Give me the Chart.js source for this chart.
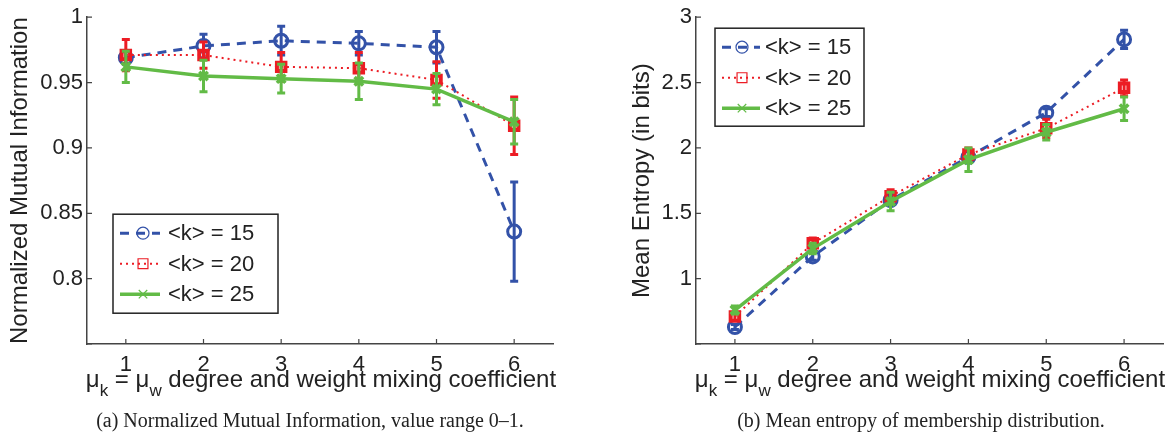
<!DOCTYPE html>
<html>
<head>
<meta charset="utf-8">
<script src="https://cdn.jsdelivr.net/npm/chart.js@4.4.1/dist/chart.umd.min.js"></script>
<style>
	html, body { margin: 0; padding: 0; background: #fff; }
	#wrap { position: relative; width: 1173px; height: 434px; overflow: hidden; font-family: 'Liberation Sans', Arial, sans-serif; color: #222; }
	canvas { position: absolute; top: 0; }
	.xtitle { position: absolute; top: 367px; width: 600px; text-align: center; font-size: 24px; line-height: 24px; white-space: nowrap; }
	.xtitle .s { position: relative; top: 9px; font-size: 17px; }
	.caption { position: absolute; top: 410px; width: 600px; text-align: center; font-family: 'Liberation Serif', 'Times New Roman', serif; font-size: 20px; line-height: 20px; white-space: nowrap; }
</style>
</head>
<body>
<div id="wrap">
	<canvas id="nmi-chart" width="575" height="434" style="left:0"></canvas>
	<canvas id="entropy-chart" width="551" height="434" style="left:622px"></canvas>
	<div class="xtitle" style="left:21px">μ<span class="s">k</span> = μ<span class="s">w</span> degree and weight mixing coefficient</div>
	<div class="xtitle" style="left:630px">μ<span class="s">k</span> = μ<span class="s">w</span> degree and weight mixing coefficient</div>
	<div class="caption" style="left:10px">(a) Normalized Mutual Information, value range 0–1.</div>
	<div class="caption" style="left:621px">(b) Mean entropy of membership distribution.</div>
</div>
<script>
const d = document,
	$nmi = d.getElementById('nmi-chart'),
	$entropy = d.getElementById('entropy-chart')

// mixing coefficient on the x axis
const mixing = ['1', '2', '3', '4', '5', '6']
const seriesLabels = ['<k> = 15', '<k> = 20', '<k> = 25']

// (a) normalized mutual information, mean and half error bar
const nmiK15 = [0.969, 0.978, 0.982, 0.980, 0.977, 0.836]
const nmiK15Err = [0.005, 0.009, 0.011, 0.009, 0.012, 0.038]
const nmiK20 = [0.971, 0.971, 0.962, 0.961, 0.952, 0.917]
const nmiK20Err = [0.012, 0.010, 0.011, 0.012, 0.014, 0.022]
const nmiK25 = [0.962, 0.955, 0.953, 0.951, 0.945, 0.920]
const nmiK25Err = [0.012, 0.012, 0.011, 0.014, 0.012, 0.017]
const nmiTicks = [0.75, 1, 0.05]

// (b) mean entropy in bits
const entK15 = [0.63, 1.17, 1.60, 1.93, 2.27, 2.83]
const entK15Err = [0.02, 0.03, 0.03, 0.04, 0.03, 0.07]
const entK20 = [0.71, 1.27, 1.63, 1.95, 2.15, 2.46]
const entK20Err = [0.03, 0.04, 0.05, 0.05, 0.07, 0.06]
const entK25 = [0.76, 1.23, 1.59, 1.91, 2.12, 2.30]
const entK25Err = [0.03, 0.04, 0.07, 0.09, 0.06, 0.09]
const entTicks = [0.5, 3, 0.5]

const AXIS = '#444',
	TEXT = '#222',
	STYLES = [
		{ color: '#3352a8', width: 3, dash: [9, 7], point: 'circle', radius: 6.5, pw: 3, legendRadius: 6 },
		{ color: '#ec1c24', width: 2, dash: [2, 4], point: 'rect', radius: 6, pw: 4, legendRadius: 7 },
		{ color: '#62bb46', width: 3.5, dash: [], point: 'crossRot', radius: 6, pw: 3.5, legendRadius: 6 },
	]

const errorBars = {
	id: 'errorBars',
	beforeDatasetDraw(chart, args) {
		const ds = chart.data.datasets[args.index]
		if (!ds.errors) return
		const ctx = chart.ctx, y = chart.scales.y
		ctx.save()
		ctx.strokeStyle = ds.borderColor
		ctx.lineWidth = 3
		ctx.setLineDash([])
		args.meta.data.forEach((pt, i) => {
			const top = y.getPixelForValue(ds.data[i] + ds.errors[i]),
				bot = y.getPixelForValue(ds.data[i] - ds.errors[i])
			ctx.beginPath()
			ctx.moveTo(pt.x, top); ctx.lineTo(pt.x, bot)
			ctx.moveTo(pt.x - 4, top); ctx.lineTo(pt.x + 4, top)
			ctx.moveTo(pt.x - 4, bot); ctx.lineTo(pt.x + 4, bot)
			ctx.stroke()
		})
		ctx.restore()
	},
}

const inwardTicks = {
	id: 'inwardTicks',
	beforeDatasetsDraw(chart) {
		const { ctx, chartArea: a, scales: { x, y } } = chart
		ctx.save()
		ctx.strokeStyle = AXIS
		ctx.lineWidth = 1.2
		ctx.beginPath()
		x.ticks.forEach((t, i) => {
			const px = x.getPixelForTick(i)
			ctx.moveTo(px, a.bottom); ctx.lineTo(px, a.bottom - 5)
		})
		y.ticks.forEach((t, i) => {
			const py = y.getPixelForTick(i)
			ctx.moveTo(a.left, py); ctx.lineTo(a.left + 5, py)
		})
		ctx.stroke()
		ctx.restore()
	},
}

const boxLegend = {
	id: 'boxLegend',
	afterDraw(chart, args, o) {
		const ctx = chart.ctx, a = chart.chartArea,
			bx = a.left + o.dx, by = a.top + o.dy
		ctx.save()
		ctx.fillStyle = '#fff'
		ctx.fillRect(bx, by, o.w, o.h)
		ctx.strokeStyle = TEXT
		ctx.lineWidth = 1.5
		ctx.strokeRect(bx, by, o.w, o.h)
		chart.data.datasets.forEach((ds, i) => {
			const st = STYLES[i], cy = by + 19 + i * 30.5
			ctx.strokeStyle = st.color
			ctx.lineWidth = st.width
			ctx.setLineDash(st.dash)
			ctx.beginPath()
			ctx.moveTo(bx + 7, cy); ctx.lineTo(bx + o.lineEnd, cy)
			ctx.stroke()
			ctx.setLineDash([])
			ctx.fillStyle = 'rgba(0,0,0,0)'
			ctx.lineWidth = 1.2
			Chart.helpers.drawPoint(ctx, { pointStyle: st.point, radius: st.legendRadius, borderWidth: 1.2, rotation: 0 }, bx + o.marker, cy)
			ctx.fillStyle = TEXT
			ctx.font = '22px "Liberation Sans", Arial, sans-serif'
			ctx.textBaseline = 'middle'
			ctx.fillText(ds.label, bx + o.text, cy + 1)
		})
		ctx.restore()
	},
}

function makeDatasets(values, errors) {
	return values.map((v, i) => ({
		label: seriesLabels[i],
		data: v,
		errors: errors[i],
		order: 3 - i,
		borderColor: STYLES[i].color,
		borderWidth: STYLES[i].width,
		borderDash: STYLES[i].dash,
		pointStyle: STYLES[i].point,
		pointRadius: STYLES[i].radius,
		pointBorderWidth: STYLES[i].pw,
		pointBorderColor: STYLES[i].color,
		pointBackgroundColor: 'rgba(0,0,0,0)',
		fill: false,
		tension: 0,
	}))
}

function createChart($canvas, datasets, ticks, yTitle, yWidth, padRight, legend) {
	const [min, max, stepSize] = ticks
	return new Chart($canvas, {
		type: 'line',
		data: { labels: mixing, datasets },
		plugins: [errorBars, inwardTicks, boxLegend],
		options: {
			responsive: false,
			animation: false,
			events: [],
			devicePixelRatio: 1,
			layout: { padding: { top: 17, right: padRight, left: 0, bottom: 0 } },
			plugins: { legend: { display: false }, tooltip: { enabled: false }, boxLegend: legend },
			scales: {
				x: {
					offset: true,
					grid: { display: false, drawTicks: false },
					border: { display: true, color: AXIS, width: 1.5 },
					ticks: { color: TEXT, padding: 8, font: { size: 22, family: 'Liberation Sans' } },
					afterFit: (s) => { s.height = 90 },
				},
				y: {
					min, max,
					grid: { display: false, drawTicks: false },
					border: { display: true, color: AXIS, width: 1.5 },
					ticks: {
						stepSize, color: TEXT, padding: 4,
						font: { size: 22, family: 'Liberation Sans' },
						callback: (v) => (v <= min + 1e-9 ? '' : String(+v.toFixed(2))),
					},
					title: { display: true, text: yTitle, color: TEXT, padding: { top: 6 }, font: { size: 24, family: 'Liberation Sans' } },
					afterFit: (s) => { s.width = yWidth },
				},
			},
		},
	})
}

createChart($nmi, makeDatasets([nmiK15, nmiK20, nmiK25], [nmiK15Err, nmiK20Err, nmiK25Err]),
	nmiTicks, 'Normalized Mutual Information', 87, 22,
	{ dx: 26, dy: 197, w: 165, h: 99, lineEnd: 47, marker: 30, text: 55 })

createChart($entropy, makeDatasets([entK15, entK20, entK25], [entK15Err, entK20Err, entK25Err]),
	entTicks, 'Mean Entropy (in bits)', 74, 7,
	{ dx: 19, dy: 11, w: 149, h: 98, lineEnd: 45, marker: 27, text: 50 })
</script>
</body>
</html>
